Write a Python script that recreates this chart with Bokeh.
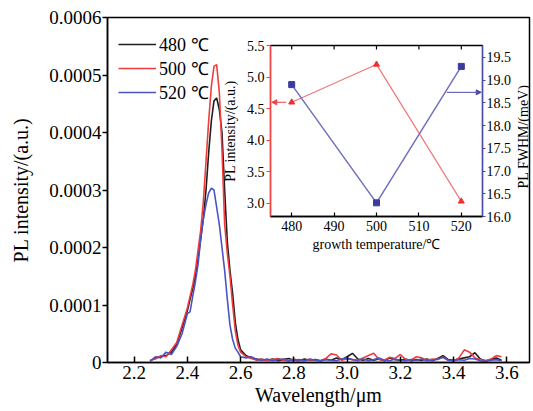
import math
from bokeh.plotting import figure
from bokeh.models import (Range1d, LinearAxis, FixedTicker, PrintfTickFormatter,
                          CustomJSTickFormatter, Legend, LegendItem, Arrow, NormalHead, Label)
from bokeh.embed import file_html
from bokeh.resources import INLINE

FONT = "Liberation Serif"

# ---------------- main spectra data ----------------
wavelength = [2.26, 2.28, 2.30, 2.32, 2.34, 2.36, 2.38,
              2.40, 2.41, 2.42, 2.43, 2.44, 2.45, 2.46, 2.47, 2.48, 2.49, 2.50,
              2.51, 2.52, 2.53, 2.54, 2.55, 2.56, 2.57, 2.58, 2.59, 2.60,
              2.62, 2.64, 2.66, 2.68, 2.70, 2.72, 2.74, 2.76, 2.78, 2.80,
              2.82, 2.84, 2.86, 2.88, 2.90, 2.92, 2.94, 2.96, 2.98, 3.00,
              3.02, 3.04, 3.06, 3.08, 3.10, 3.12, 3.14, 3.16, 3.18, 3.20,
              3.22, 3.24, 3.26, 3.28, 3.30, 3.32, 3.34, 3.36, 3.38, 3.40,
              3.42, 3.44, 3.46, 3.48, 3.50, 3.52, 3.54, 3.56, 3.58]

pl_480 = [3e-6, 8e-6, 10e-6, 12e-6, 18e-6, 32e-6, 60e-6,
          90e-6, 110e-6, 128e-6, 150e-6, 180e-6, 215e-6, 250e-6, 300e-6, 365e-6, 420e-6, 455e-6,
          460e-6, 440e-6, 400e-6, 300e-6, 210e-6, 160e-6, 120e-6, 70e-6, 40e-6, 22e-6,
          12e-6, 8e-6, 6e-6, 5e-6, 4e-6, 6e-6, 3e-6, 5e-6, 7e-6, 4e-6,
          3e-6, 6e-6, 4e-6, 5e-6, 3e-6, 6e-6, 4e-6, 8e-6, 5e-6, 10e-6,
          16e-6, 6e-6, 4e-6, 7e-6, 4e-6, 6e-6, 3e-6, 8e-6, 5e-6, 4e-6,
          6e-6, 3e-6, 5e-6, 4e-6, 6e-6, 3e-6, 7e-6, 12e-6, 5e-6, 4e-6,
          6e-6, 8e-6, 10e-6, 17e-6, 6e-6, 3e-6, 5e-6, 8e-6, 4e-6]

pl_500 = [4e-6, 6e-6, 12e-6, 10e-6, 22e-6, 35e-6, 65e-6,
          95e-6, 115e-6, 135e-6, 160e-6, 195e-6, 230e-6, 280e-6, 350e-6, 420e-6, 480e-6, 515e-6,
          518e-6, 470e-6, 370e-6, 240e-6, 190e-6, 150e-6, 100e-6, 55e-6, 30e-6, 18e-6,
          10e-6, 7e-6, 4e-6, 6e-6, 3e-6, 5e-6, 7e-6, 4e-6, 3e-6, 6e-6,
          4e-6, 3e-6, 5e-6, 4e-6, 3e-6, 7e-6, 15e-6, 13e-6, 4e-6, 6e-6,
          5e-6, 3e-6, 8e-6, 12e-6, 16e-6, 5e-6, 4e-6, 9e-6, 7e-6, 14e-6,
          5e-6, 4e-6, 10e-6, 8e-6, 4e-6, 6e-6, 5e-6, 9e-6, 4e-6, 3e-6,
          8e-6, 22e-6, 18e-6, 8e-6, 5e-6, 3e-6, 6e-6, 12e-6, 10e-6]

pl_520 = [2e-6, 10e-6, 8e-6, 18e-6, 14e-6, 28e-6, 50e-6,
          85e-6, 88e-6, 115e-6, 140e-6, 170e-6, 215e-6, 250e-6, 275e-6, 295e-6, 303e-6, 300e-6,
          270e-6, 240e-6, 200e-6, 160e-6, 110e-6, 65e-6, 40e-6, 25e-6, 18e-6, 10e-6,
          8e-6, 10e-6, 5e-6, 4e-6, 6e-6, 3e-6, 5e-6, 6e-6, 3e-6, 4e-6,
          5e-6, 3e-6, 6e-6, 4e-6, 3e-6, 5e-6, 4e-6, 3e-6, 6e-6, 8e-6,
          5e-6, 4e-6, 6e-6, 3e-6, 5e-6, 8e-6, 4e-6, 3e-6, 6e-6, 4e-6,
          3e-6, 5e-6, 4e-6, 6e-6, 3e-6, 4e-6, 6e-6, 9e-6, 4e-6, 3e-6,
          5e-6, 4e-6, 7e-6, 6e-6, 3e-6, 2e-6, 4e-6, 5e-6, 3e-6]

series_labels = ["480 \u2103", "500 \u2103", "520 \u2103"]
series_colors = ["#1e1e1e", "#f03c3c", "#4a52c4"]

x_ticks = [2.2, 2.4, 2.6, 2.8, 3.0, 3.2, 3.4, 3.6]
y_ticks = [0, 0.0001, 0.0002, 0.0003, 0.0004, 0.0005, 0.0006]

# ---------------- inset data ----------------
growth_temp = [480, 500, 520]
inset_intensity = [4.6, 5.2, 3.03]
inset_fwhm = [18.9, 16.3, 19.3]
inset_x_ticks = [480, 490, 500, 510, 520]
inset_left_ticks = [3.0, 3.5, 4.0, 4.5, 5.0, 5.5]
inset_right_ticks = [16.0, 16.5, 17.0, 17.5, 18.0, 18.5, 19.0, 19.5]
inset_right_title = "PL FWHM/(meV)"

# ================= main figure =================
p = figure(width=533, height=411, output_backend="svg", toolbar_location=None,
           x_range=Range1d(2.1, 3.685), y_range=Range1d(0, 0.0006),
           min_border_left=107, min_border_right=4, min_border_top=17, min_border_bottom=49,
           x_axis_label="Wavelength/\u03bcm", y_axis_label="PL intensity/(a.u.)")
p.background_fill_color = "white"
p.border_fill_color = "white"
p.outline_line_color = "black"
p.outline_line_width = 1.5
p.grid.visible = False

xa = p.below[0]
ya = p.left[0]
xa.ticker = FixedTicker(ticks=x_ticks)
xa.formatter = PrintfTickFormatter(format="%.1f")
ya.ticker = FixedTicker(ticks=y_ticks)
ya.formatter = CustomJSTickFormatter(code="return tick == 0 ? '0' : tick.toFixed(4);")
for ax in (xa, ya):
    ax.axis_line_color = "black"
    ax.axis_line_width = 1.5
    ax.major_tick_line_color = "black"
    ax.major_tick_line_width = 1.5
    ax.minor_tick_line_color = None
    ax.major_label_text_font = FONT
    ax.major_label_text_font_size = "19px"
    ax.major_label_text_color = "black"
    ax.axis_label_text_font = FONT
    ax.axis_label_text_font_size = "20px"
    ax.axis_label_text_font_style = "normal"
    ax.axis_label_text_color = "black"
xa.major_tick_in = 6
xa.major_tick_out = 0
xa.major_label_standoff = 3
xa.axis_label_standoff = 2
ya.major_tick_in = 0
ya.major_tick_out = 5
ya.major_label_standoff = 1
ya.axis_label_standoff = 14

renderers = []
for ys, col in zip([pl_480, pl_500, pl_520], series_colors):
    r = p.line(wavelength, ys, line_color=col, line_width=1.6)
    renderers.append(r)

legend = Legend(items=[LegendItem(label=lab, renderers=[r]) for lab, r in zip(series_labels, renderers)],
                location=(11, 258))
legend.background_fill_alpha = 0
legend.border_line_color = None
legend.label_text_font = FONT
legend.label_text_font_size = "18px"
legend.label_text_line_height = 1.0
legend.label_text_color = "black"
legend.glyph_width = 38
legend.glyph_height = 20
legend.label_height = 20
legend.label_standoff = 3
legend.spacing = 0
legend.padding = 0
legend.margin = 0
p.add_layout(legend)

# title of the inset's right axis (placed in the page, right of the inset's tick labels)
p.add_layout(Label(x=3.663, y=0.000393, text=inset_right_title,
                   angle=math.pi / 2, text_align="center", text_baseline="middle",
                   text_font=FONT, text_font_size="14px", text_color="black"))

# ================= inset figure =================
red_c = "#ee4444"
blue_c = "#4b4ba8"
q = figure(frame_width=212, frame_height=171, output_backend="svg", toolbar_location=None,
           x_range=Range1d(475, 525), y_range=Range1d(2.79, 5.5),
           min_border_left=50, min_border_right=42, min_border_top=7, min_border_bottom=45,
           x_axis_label="growth temperature/\u2103", y_axis_label="PL intensity/(a.u.)")
q.styles = {"position": "absolute", "left": "219px", "top": "38px"}
q.background_fill_alpha = 0
q.border_fill_alpha = 0
q.outline_line_color = "black"
q.outline_line_width = 1.3
q.grid.visible = False
q.extra_y_ranges = {"fwhm": Range1d(16.0, 19.76)}

bx = q.below[0]
ly = q.left[0]
bx.ticker = FixedTicker(ticks=inset_x_ticks)
ly.ticker = FixedTicker(ticks=inset_left_ticks)
ly.formatter = PrintfTickFormatter(format="%.1f")

raxis = LinearAxis(y_range_name="fwhm",
                   ticker=FixedTicker(ticks=inset_right_ticks),
                   formatter=PrintfTickFormatter(format="%.1f"))
q.add_layout(raxis, "right")

for ax in (bx, ly, raxis):
    ax.axis_line_width = 1.3
    ax.major_tick_line_width = 1.2
    ax.minor_tick_line_color = None
    ax.major_label_text_font = FONT
    ax.major_label_text_font_size = "14px"
    ax.major_label_text_color = "black"
    ax.axis_label_text_font = FONT
    ax.axis_label_text_font_size = "14px"
    ax.axis_label_text_font_style = "normal"
    ax.axis_label_text_color = "black"

bx.axis_line_color = "black"
bx.major_tick_line_color = "black"
bx.major_tick_in = 4
bx.major_tick_out = 0
bx.major_label_standoff = 4
bx.axis_label_standoff = 3

ly.axis_line_color = red_c
ly.major_tick_line_color = red_c
ly.major_tick_in = 0
ly.major_tick_out = 4
ly.major_label_standoff = 2
ly.axis_label_standoff = 6

raxis.axis_line_color = blue_c
raxis.major_tick_line_color = blue_c
raxis.major_tick_in = 0
raxis.major_tick_out = 3
raxis.major_label_standoff = 1

# top tick marks of the inset (inward), centred on the top edge
q.scatter(inset_x_ticks, [q.y_range.end] * len(inset_x_ticks), marker="dash",
          angle=math.pi / 2, size=8, line_color="black", line_width=1.2)

q.line(growth_temp, inset_intensity, line_color="#f07878", line_width=1.2)
q.scatter(growth_temp, inset_intensity, marker="triangle", size=6,
          fill_color="#ee3030", line_color="#ee3030")
q.line(growth_temp, inset_fwhm, line_color="#7070c0", line_width=1.5, y_range_name="fwhm")
q.scatter(growth_temp, inset_fwhm, marker="square", size=6,
          fill_color="#3a3aa0", line_color="#3a3aa0", y_range_name="fwhm")

q.add_layout(Arrow(end=NormalHead(size=5, fill_color=red_c, line_color=red_c),
                   x_start=growth_temp[0] - 1.3, y_start=inset_intensity[0],
                   x_end=q.x_range.start + 0.3, y_end=inset_intensity[0],
                   line_color=red_c, line_width=1))
q.add_layout(Arrow(end=NormalHead(size=5, fill_color=blue_c, line_color=blue_c),
                   x_start=516.6, y_start=18.73, x_end=q.x_range.end - 0.3, y_end=18.73,
                   line_color=blue_c, line_width=1, y_range_name="fwhm"))

open("out.html", "w").write(file_html([p, q], INLINE))
